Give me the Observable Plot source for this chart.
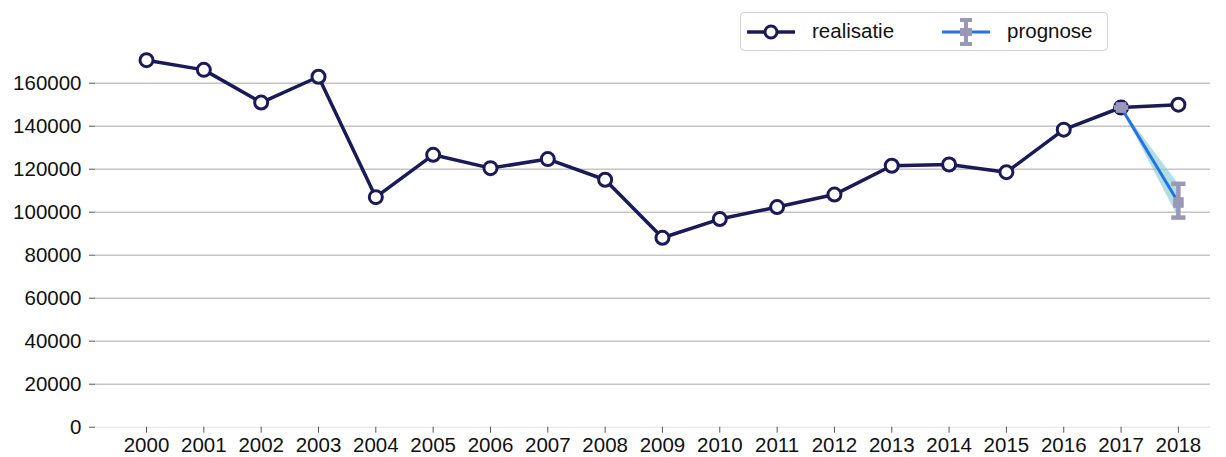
<!DOCTYPE html>
<html>
<head>
<meta charset="utf-8">
<script src="https://cdn.jsdelivr.net/npm/d3@7"></script>
<script src="https://cdn.jsdelivr.net/npm/@observablehq/plot@0.6"></script>
<style>
  html, body { margin: 0; padding: 0; background: #fff; }
  #wrap { position: relative; width: 1226px; height: 457px; font-family: "Liberation Sans", Arial, sans-serif; }
  #legend { position: absolute; left: 740px; top: 12px; width: 366px; height: 37px; border: 1.5px solid #d0d0d0; border-radius: 4px; background: #fff; font-size: 20.5px; color: #111; }
  #legend svg, #legend span { position: absolute; display: block; }
</style>
</head>
<body>
<div id="wrap">
  <div id="chart"></div>
  <div id="legend">
    <svg style="left:5px;top:6px" width="50" height="26"><line x1="1" x2="49" y1="13" y2="13" stroke="#1b1a57" stroke-width="3.5"/><circle cx="25" cy="13" r="6" fill="#fff" stroke="#1b1a57" stroke-width="3"/></svg>
    <span style="left:71px;top:6px">realisatie</span>
    <svg style="left:200px;top:3px" width="50" height="32"><line x1="1" x2="49" y1="16" y2="16" stroke="#2472e3" stroke-width="3"/><line x1="25" x2="25" y1="4" y2="28" stroke="#9a98b8" stroke-width="4"/><line x1="19" x2="31" y1="4" y2="4" stroke="#9a98b8" stroke-width="4"/><line x1="19" x2="31" y1="28" y2="28" stroke="#9a98b8" stroke-width="4"/><rect x="19" y="12" width="12" height="8" fill="#9a98b8"/></svg>
    <span style="left:266px;top:6px">prognose</span>
  </div>
</div>
<script>
const years = [2000,2001,2002,2003,2004,2005,2006,2007,2008,2009,2010,2011,2012,2013,2014,2015,2016,2017,2018];
const realisatie = [170700,166200,151000,163000,107000,126700,120500,124700,115100,88100,96800,102400,108200,121600,122200,118600,138400,148700,150000];
const progYears = [2017, 2018];
const prognose = [148700, 104500];
const progLow = [148700, 97500];
const progHigh = [148700, 113200];
const yTicks = [0,20000,40000,60000,80000,100000,120000,140000,160000];

const real = years.map((year, i) => ({year, value: realisatie[i]}));
const prog = progYears.map((year, i) => ({year, value: prognose[i], low: progLow[i], high: progHigh[i]}));

const navy = "#1b1a57";
const blue = "#2472e3";
const grey = "#9a98b8";
const capSymbol = {draw(ctx, size) { const w = Math.sqrt(size) / 2; ctx.moveTo(-w, 0); ctx.lineTo(w, 0); }};

const chart = Plot.plot({
  width: 1226,
  height: 457,
  marginLeft: 95,
  marginRight: 16,
  marginTop: 39.7,
  marginBottom: 30.3,
  style: {fontFamily: "'Liberation Sans', Arial, sans-serif", fontSize: "20.5px", color: "#111", background: "#fff", overflow: "visible"},
  x: {domain: [1999.11, 2018.56], axis: null},
  y: {domain: [0, 180000], axis: null},
  marks: [
    Plot.gridY(yTicks.filter(d => d > 0), {stroke: "#c4c4c4", strokeOpacity: 1, strokeWidth: 1.5}),
    Plot.gridY([0], {stroke: "#ececec", strokeOpacity: 1, strokeWidth: 1.5}),
    Plot.axisY(yTicks, {tickSize: 6, tickPadding: 8, tickFormat: d => String(d), stroke: "#555", fontSize: 20.5, label: null}),
    Plot.axisX(years, {tickSize: 6, tickPadding: 4, tickFormat: d => String(d), stroke: "#555", fontSize: 20.5, label: null}),
    Plot.line(real, {x: "year", y: "value", stroke: navy, strokeWidth: 3.5}),
    Plot.dot(real, {x: "year", y: "value", r: 6.5, fill: "#fff", stroke: navy, strokeWidth: 3}),
    Plot.areaY(prog, {x: "year", y1: "low", y2: "high", fill: "#8fd0d4", fillOpacity: 0.7}),
    Plot.line(prog, {x: "year", y: "value", stroke: blue, strokeWidth: 3}),
    Plot.ruleX(prog, {x: "year", y1: "low", y2: "high", stroke: grey, strokeWidth: 4.5}),
    Plot.dot(prog, {x: "year", y: "low", symbol: capSymbol, r: 8, stroke: grey, strokeWidth: 4.5}),
    Plot.dot(prog, {x: "year", y: "high", symbol: capSymbol, r: 8, stroke: grey, strokeWidth: 4.5}),
    Plot.dot(prog, {x: "year", y: "value", symbol: "square", r: 6, fill: grey, stroke: "none"})
  ]
});
document.getElementById("chart").appendChild(chart);
</script>
</body>
</html>
